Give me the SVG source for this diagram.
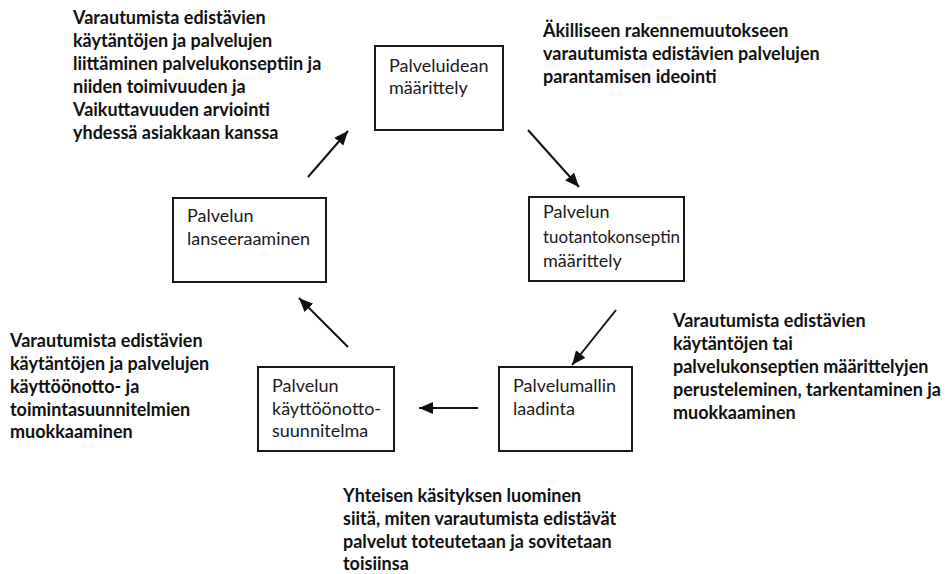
<svg xmlns="http://www.w3.org/2000/svg" width="952" height="574" viewBox="0 0 952 574">
  <style>
    .box { fill: #ffffff; stroke: #1a1a1a; stroke-width: 2; }
    .label { font-family: Lato, "Open Sans", "Liberation Sans", sans-serif; font-size: 18px; fill: #1a1a1a; }
    .note { font-family: Lato, "Open Sans", "Liberation Sans", sans-serif; font-size: 18px; font-weight: bold; fill: #111111; }
    .conn { stroke: #111111; stroke-width: 2; fill: none; marker-end: url(#head); }
  </style>
  <defs>
    <marker id="head" markerUnits="userSpaceOnUse" markerWidth="16" markerHeight="14" refX="14" refY="6" orient="auto">
      <path d="M0,0 L14,6 L0,12 Z" fill="#111111"/>
    </marker>
  </defs>

  <rect width="952" height="574" fill="#ffffff"/>

  <!-- process steps -->
  <g id="palveluidean-maarittely">
    <rect class="box" x="375" y="46" width="128" height="84"/>
    <text class="label" x="389" y="72">Palveluidean</text>
    <text class="label" x="389" y="94">määrittely</text>
  </g>

  <g id="tuotantokonseptin-maarittely">
    <rect class="box" x="529" y="197" width="155" height="84"/>
    <text class="label" x="543" y="218">Palvelun</text>
    <text class="label" x="543" y="243" textLength="137" lengthAdjust="spacingAndGlyphs">tuotantokonseptin</text>
    <text class="label" x="543" y="267">määrittely</text>
  </g>

  <g id="palvelumallin-laadinta">
    <rect class="box" x="499" y="367" width="133" height="84"/>
    <text class="label" x="513" y="392">Palvelumallin</text>
    <text class="label" x="513" y="415">laadinta</text>
  </g>

  <g id="kayttoonottosuunnitelma">
    <rect class="box" x="258" y="367" width="136" height="84"/>
    <text class="label" x="272" y="392">Palvelun</text>
    <text class="label" x="272" y="415">käyttöönotto-</text>
    <text class="label" x="272" y="437">suunnitelma</text>
  </g>

  <g id="lanseeraaminen">
    <rect class="box" x="173" y="198" width="153" height="84"/>
    <text class="label" x="187" y="222">Palvelun</text>
    <text class="label" x="187" y="245">lanseeraaminen</text>
  </g>

  <!-- cycle arrows -->
  <g id="connectors">
    <line class="conn" x1="528" y1="130" x2="579" y2="187"/>
    <line class="conn" x1="616" y1="310" x2="572" y2="365"/>
    <line class="conn" x1="478" y1="408" x2="419" y2="408"/>
    <line class="conn" x1="348" y1="347" x2="299" y2="298"/>
    <line class="conn" x1="308" y1="177" x2="348" y2="131"/>
  </g>

  <!-- descriptions of each phase -->
  <g id="kuvaus-arviointi">
    <text class="note" x="73" y="24">Varautumista edistävien</text>
    <text class="note" x="73" y="47">käytäntöjen ja palvelujen</text>
    <text class="note" x="73" y="70">liittäminen palvelukonseptiin ja</text>
    <text class="note" x="73" y="93">niiden toimivuuden ja</text>
    <text class="note" x="73" y="116">Vaikuttavuuden arviointi</text>
    <text class="note" x="73" y="139">yhdessä asiakkaan kanssa</text>
  </g>

  <g id="kuvaus-ideointi">
    <text class="note" x="543" y="37">Äkilliseen rakennemuutokseen</text>
    <text class="note" x="543" y="60">varautumista edistävien palvelujen</text>
    <text class="note" x="543" y="83">parantamisen ideointi</text>
  </g>

  <g id="kuvaus-maarittelyt">
    <text class="note" x="673" y="327">Varautumista edistävien</text>
    <text class="note" x="673" y="350">käytäntöjen tai</text>
    <text class="note" x="673" y="373">palvelukonseptien määrittelyjen</text>
    <text class="note" x="673" y="396">perusteleminen, tarkentaminen ja</text>
    <text class="note" x="673" y="419">muokkaaminen</text>
  </g>

  <g id="kuvaus-yhteinen-kasitys">
    <text class="note" x="343" y="502">Yhteisen käsityksen luominen</text>
    <text class="note" x="343" y="525">siitä, miten varautumista edistävät</text>
    <text class="note" x="343" y="548">palvelut toteutetaan ja sovitetaan</text>
    <text class="note" x="343" y="570">toisiinsa</text>
  </g>

  <g id="kuvaus-suunnitelmat">
    <text class="note" x="10" y="347">Varautumista edistävien</text>
    <text class="note" x="10" y="370">käytäntöjen ja palvelujen</text>
    <text class="note" x="10" y="393">käyttöönotto- ja</text>
    <text class="note" x="10" y="416">toimintasuunnitelmien</text>
    <text class="note" x="10" y="438">muokkaaminen</text>
  </g>
</svg>
